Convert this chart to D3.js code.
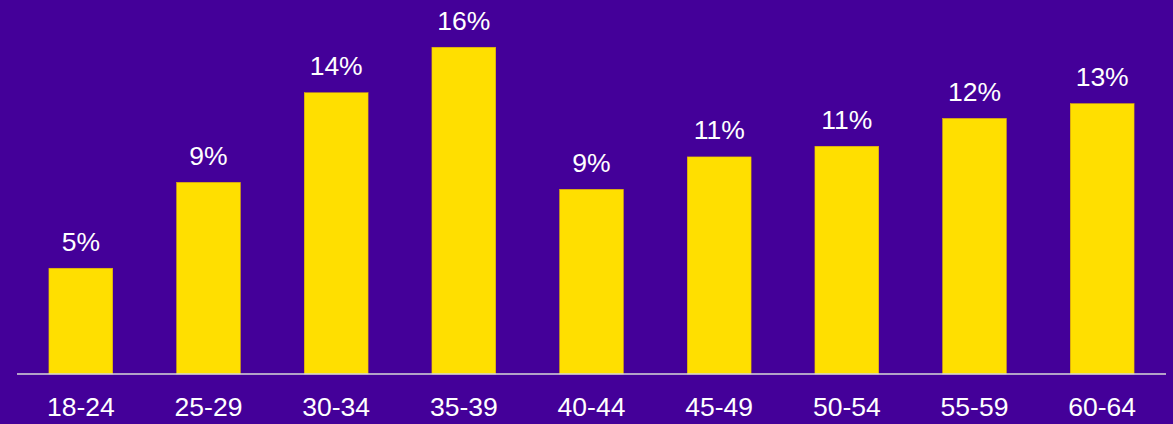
<!DOCTYPE html>
<html>
<head>
<meta charset="utf-8">
<script src="https://cdn.jsdelivr.net/npm/d3@7"></script>
<style>
  html, body { margin: 0; padding: 0; background: #440099; }
  svg { display: block; }
</style>
</head>
<body>
<svg id="chart" width="1173" height="424"></svg>
<script>
const categories = ["18-24", "25-29", "30-34", "35-39", "40-44", "45-49", "50-54", "55-59", "60-64"];
const values = [5.16, 9.35, 13.72, 15.94, 9.01, 10.59, 11.11, 12.47, 13.19];
const valueLabels = ["5%", "9%", "14%", "16%", "9%", "11%", "11%", "12%", "13%"];

const W = 1173, H = 424;
const svg = d3.select("#chart");
svg.append("rect").attr("width", W).attr("height", H).attr("fill", "#440099");

const baseY = 374;
const x = d3.scaleBand().domain(categories).range([17, 1166]).paddingInner(0.5).paddingOuter(0.25);
const y = d3.scaleLinear().domain([0, 18]).range([baseY, baseY - 18 * 20.5]);

const font = "'Liberation Sans', Arial, sans-serif";

svg.selectAll("rect.bar").data(values).enter().append("rect")
  .attr("class", "bar")
  .attr("x", (d, i) => x(categories[i]))
  .attr("width", x.bandwidth())
  .attr("y", d => y(d))
  .attr("height", d => y(0) - y(d))
  .attr("fill", "#FFDF00")
  .attr("stroke", "#E8B400")
  .attr("stroke-width", 0.5);

svg.selectAll("text.val").data(values).enter().append("text")
  .attr("class", "val")
  .attr("x", (d, i) => x(categories[i]) + x.bandwidth() / 2)
  .attr("y", d => y(d) - 17.5)
  .attr("text-anchor", "middle")
  .attr("fill", "#ffffff")
  .attr("font-family", font)
  .attr("font-size", "26.5px")
  .text((d, i) => valueLabels[i]);

const axis = d3.axisBottom(x).tickSize(0).tickPadding(0);
const g = svg.append("g").attr("transform", `translate(0,${baseY})`).call(axis);
g.select(".domain").attr("stroke", "#d9d9d9").attr("stroke-width", 1.5).attr("d", "M17,0H1166");
g.selectAll(".tick text")
  .attr("fill", "#ffffff")
  .attr("font-family", font)
  .attr("font-size", "26.5px")
  .attr("dy", null)
  .attr("y", 42);
</script>
</body>
</html>
